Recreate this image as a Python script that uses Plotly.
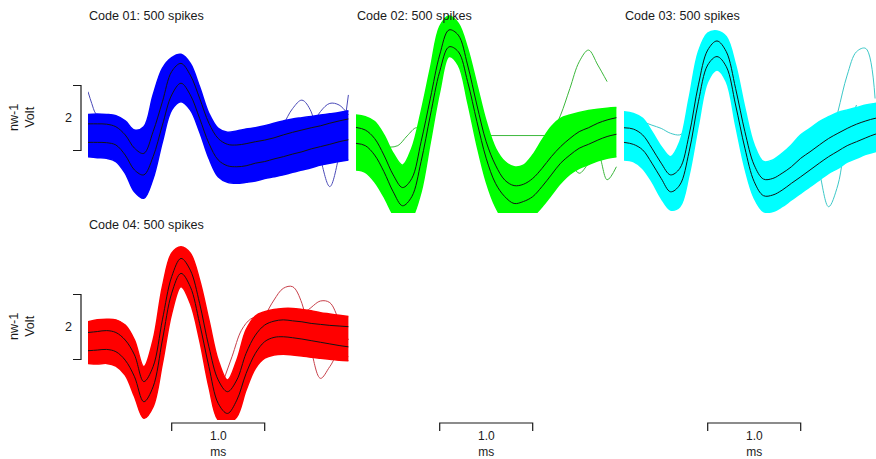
import plotly.graph_objects as go

# ---------------- data (time in ms, amplitude in scale units where bar = 2) -------------
T_MS = [0.0, 0.1, 0.2, 0.3, 0.4, 0.5, 0.6, 0.7, 0.8, 0.9, 1.0, 1.1, 1.2, 1.3, 1.4,
        1.5, 1.6, 1.7, 1.8, 1.9, 2.0, 2.1, 2.2, 2.3, 2.4, 2.5, 2.6, 2.7, 2.8]

TITLES = ["Code 01: 500 spikes", "Code 02: 500 spikes",
          "Code 03: 500 spikes", "Code 04: 500 spikes"]
COLORS = ["#0000FF", "#00FF00", "#00FFFF", "#FF0000"]
OUTLIER_COLORS = ["#4a4ab8", "#3cb83c", "#3cc8c8", "#c8404a"]

# Code 01 (blue)
C1_MAX = [0.11, 0.12, 0.11, 0.07, -0.09, -0.37, -0.27, 0.71, 1.53, 1.86, 1.96, 1.68, 0.96, 0.14, -0.32,
          -0.44, -0.40, -0.34, -0.30, -0.24, -0.16, -0.09, -0.03, 0.01, 0.05, 0.09, 0.13, 0.17, 0.22]
C1_SD_HI = [-0.18, -0.18, -0.19, -0.27, -0.52, -0.93, -1.09, -0.42, 0.50, 1.43, 1.68, 1.32, 0.61, -0.16, -0.63,
            -0.81, -0.83, -0.79, -0.73, -0.68, -0.61, -0.52, -0.44, -0.37, -0.30, -0.24, -0.16, -0.09, -0.03]
C1_SD_LO = [-0.75, -0.75, -0.76, -0.83, -1.14, -1.60, -1.75, -1.19, -0.22, 0.71, 1.07, 0.71, -0.01, -0.78, -1.29,
            -1.47, -1.50, -1.47, -1.39, -1.34, -1.26, -1.19, -1.11, -1.04, -0.95, -0.88, -0.81, -0.73, -0.67]
C1_MIN = [-1.19, -1.22, -1.24, -1.34, -1.70, -2.27, -2.47, -1.86, -0.73, 0.25, 0.50, 0.25, -0.42, -1.24, -1.81,
          -1.98, -2.01, -1.98, -1.94, -1.86, -1.81, -1.75, -1.67, -1.60, -1.53, -1.45, -1.39, -1.34, -1.29]

# Code 02 (green)
C2_MAX = [0.09, 0.04, -0.11, -0.52, -1.09, -1.45, -0.93, 0.19, 1.53, 2.81, 3.14, 2.91, 2.14, 1.02, -0.11,
          -0.93, -1.34, -1.50, -1.45, -1.14, -0.68, -0.27, -0.01, 0.09, 0.17, 0.23, 0.27, 0.30, 0.32]
C2_SD_HI = [-0.29, -0.37, -0.63, -1.14, -1.75, -2.14, -1.86, -0.73, 0.61, 1.94, 2.71, 2.55, 1.63, 0.40, -0.73,
            -1.45, -1.91, -2.08, -2.04, -1.86, -1.55, -1.19, -0.88, -0.63, -0.42, -0.30, -0.16, -0.06, 0.01]
C2_SD_LO = [-0.78, -0.85, -1.14, -1.65, -2.27, -2.70, -2.42, -1.34, 0.09, 1.43, 2.19, 2.04, 1.12, -0.11, -1.24,
            -2.01, -2.42, -2.63, -2.57, -2.42, -2.11, -1.75, -1.39, -1.14, -0.93, -0.81, -0.68, -0.57, -0.50]
C2_MIN = [-1.60, -1.67, -1.96, -2.42, -2.98, -3.39, -3.09, -2.27, -0.73, 0.81, 1.89, 1.63, 0.50, -0.83, -1.96,
          -2.73, -3.19, -3.39, -3.29, -3.04, -2.73, -2.37, -2.01, -1.73, -1.55, -1.43, -1.32, -1.24, -1.19]

# Code 03 (cyan)
C3_MAX = [0.19, 0.14, -0.01, -0.42, -0.88, -1.19, -0.73, 0.61, 2.04, 2.61, 2.68, 2.50, 1.63, 0.30, -0.83,
          -1.34, -1.29, -1.09, -0.83, -0.52, -0.32, -0.11, 0.04, 0.17, 0.25, 0.32, 0.40, 0.45, 0.48]
C3_SD_HI = [-0.30, -0.34, -0.52, -0.93, -1.39, -1.75, -1.55, -0.52, 1.02, 2.09, 2.37, 2.04, 0.91, -0.42, -1.45,
            -1.88, -1.86, -1.70, -1.50, -1.24, -1.04, -0.83, -0.63, -0.47, -0.32, -0.19, -0.09, -0.01, 0.03]
C3_SD_LO = [-0.75, -0.81, -0.98, -1.39, -1.86, -2.27, -2.06, -1.04, 0.50, 1.63, 1.89, 1.58, 0.40, -0.93, -1.96,
            -2.39, -2.37, -2.22, -2.01, -1.81, -1.60, -1.39, -1.19, -1.02, -0.85, -0.73, -0.61, -0.50, -0.44]
C3_MIN = [-1.29, -1.34, -1.55, -1.96, -2.47, -2.83, -2.73, -1.75, -0.22, 1.12, 1.48, 1.12, -0.22, -1.55, -2.47,
          -2.88, -2.88, -2.73, -2.52, -2.32, -2.11, -1.91, -1.70, -1.55, -1.36, -1.24, -1.12, -1.04, -0.98]

# Code 04 (red)
C4_MAX = [0.16, 0.22, 0.24, 0.22, 0.06, -0.40, -1.22, -0.40, 1.24, 2.27, 2.47, 2.27, 1.45, 0.22, -1.02,
          -1.63, -1.02, -0.09, 0.34, 0.47, 0.54, 0.57, 0.57, 0.54, 0.50, 0.44, 0.40, 0.36, 0.32]
C4_SD_HI = [-0.17, -0.14, -0.11, -0.17, -0.40, -0.86, -1.68, -1.22, 0.22, 1.55, 2.11, 1.75, 0.73, -0.61, -1.63,
            -1.99, -1.63, -0.81, -0.25, 0.06, 0.18, 0.22, 0.19, 0.16, 0.11, 0.08, 0.05, 0.03, 0.01]
C4_SD_LO = [-0.73, -0.71, -0.69, -0.76, -1.02, -1.53, -2.30, -1.84, -0.40, 1.04, 1.65, 1.24, 0.11, -1.22, -2.35,
            -2.66, -2.25, -1.43, -0.81, -0.45, -0.32, -0.30, -0.33, -0.37, -0.42, -0.47, -0.52, -0.57, -0.61]
C4_MIN = [-1.12, -1.14, -1.12, -1.20, -1.48, -2.14, -2.81, -2.45, -1.12, 0.42, 1.24, 0.73, -0.40, -1.84, -2.86,
          -2.96, -2.76, -1.94, -1.27, -0.96, -0.86, -0.84, -0.86, -0.89, -0.93, -0.96, -0.99, -1.02, -1.04]

# a few individual outlier spikes (time, value)
C1_OUT_T = [2.0, 2.1, 2.2, 2.3, 2.4, 2.5, 2.6, 2.7, 2.8]
C1_OUT_V = [-0.83, -0.22, 0.29, 0.55, 0.19, -1.24, -2.11, -1.14, 0.71]
C1_OUT2_T = [2.4, 2.5, 2.6, 2.7, 2.8]
C1_OUT2_V = [-0.30, 0.20, 0.45, 0.40, 0.10]
C1_OUT3_T = [0.0, 0.04, 0.08, 0.12]
C1_OUT3_V = [0.81, 0.45, 0.15, 0.05]
C2_OUT_T = [1.9, 2.0, 2.1, 2.2, 2.3, 2.4, 2.5, 2.6, 2.7]
C2_OUT_V = [-1.75, -1.14, -0.52, 0.09, 0.91, 1.73, 2.09, 1.63, 1.12]
C2_FLAT_T = [1.35, 2.05]
C2_FLAT_V = [-0.54, -0.54]
C2_OUT2_T = [0.35, 0.45, 0.55, 0.65, 0.72]
C2_OUT2_V = [-0.90, -0.85, -0.55, -0.30, -0.50]
C2_OUT3_T = [2.3, 2.4, 2.5, 2.6, 2.7, 2.8]
C2_OUT3_V = [-1.30, -1.70, -1.40, -1.10, -1.90, -1.50]
C3_OUT_T = [2.2, 2.3, 2.4, 2.5, 2.6, 2.7]
C3_OUT_V = [-0.93, 0.19, 1.32, 2.04, 2.14, 0.60]
C3_OUT2_T = [2.0, 2.1, 2.2, 2.3, 2.4, 2.5]
C3_OUT2_V = [-0.52, -1.65, -2.73, -2.06, -0.42, 0.40]
C3_OUT3_T = [0.2, 0.3, 0.4, 0.5, 0.6, 0.65]
C3_OUT3_V = [-0.11, -0.22, -0.32, -0.47, -0.52, -0.42]
C4_OUT_T = [1.8, 1.9, 2.0, 2.1, 2.2, 2.3, 2.4, 2.5, 2.6, 2.7, 2.8]
C4_OUT_V = [-0.30, 0.32, 0.83, 1.19, 1.24, 0.73, -0.71, -1.58, -1.22, -0.81, -0.91]
C4_OUT2_T = [1.45, 1.55, 1.65, 1.75, 1.85]
C4_OUT2_V = [-1.70, -0.90, -0.10, 0.25, 0.35]
C4_OUT3_T = [2.2, 2.35, 2.5, 2.6, 2.7, 2.8]
C4_OUT3_V = [0.35, 0.50, 0.80, 0.75, 0.20, -0.40]

SCALE_V = [-1, 1]          # vertical scale bar: 2 units
SCALE_T = [0.9, 1.9]       # horizontal scale bar: 1.0 ms
SCALE_V_LABEL = "2"
SCALE_T_LABEL = "1.0"
UNIT_T = "ms"
UNIT_V = "nw-1<br>Volt"

# ---------------- layout geometry ----------------
W, H = 876, 459
PX_PER_MS = 93.0
PX_PER_UNIT = 32.5

panels = [
    dict(data=(C1_MAX, C1_SD_HI, C1_SD_LO, C1_MIN),
         outliers=[(C1_OUT_T, C1_OUT_V), (C1_OUT2_T, C1_OUT2_V), (C1_OUT3_T, C1_OUT3_V)],
         x0=88, x1=350, row=0),
    dict(data=(C2_MAX, C2_SD_HI, C2_SD_LO, C2_MIN),
         outliers=[(C2_OUT_T, C2_OUT_V), (C2_FLAT_T, C2_FLAT_V), (C2_OUT2_T, C2_OUT2_V),
                   (C2_OUT3_T, C2_OUT3_V)], x0=356, x1=618, row=0),
    dict(data=(C3_MAX, C3_SD_HI, C3_SD_LO, C3_MIN),
         outliers=[(C3_OUT_T, C3_OUT_V), (C3_OUT2_T, C3_OUT2_V), (C3_OUT3_T, C3_OUT3_V)],
         x0=624, x1=876, row=0),
    dict(data=(C4_MAX, C4_SD_HI, C4_SD_LO, C4_MIN),
         outliers=[(C4_OUT_T, C4_OUT_V), (C4_OUT2_T, C4_OUT2_V), (C4_OUT3_T, C4_OUT3_V)],
         x0=88, x1=350, row=1),
]
# rows: (plot top px, plot bottom px, zero-level px)
rows = [(15, 213, 118), (222, 420, 327)]

fig = go.Figure()
layout = dict(width=W, height=H, margin=dict(l=0, r=0, t=0, b=0), autosize=False,
              paper_bgcolor="white", plot_bgcolor="white", showlegend=False)
shapes, annotations = [], []
FONT = dict(family="Liberation Sans, Arial, sans-serif", size=12, color="#1a1a1a")

for i, p in enumerate(panels):
    k = i + 1
    xa = "x" if k == 1 else f"x{k}"
    ya = "y" if k == 1 else f"y{k}"
    top, bot, zero = rows[p["row"]]
    layout["xaxis" if k == 1 else f"xaxis{k}"] = dict(
        domain=[p["x0"] / W, p["x1"] / W], range=[0, (p["x1"] - p["x0"]) / PX_PER_MS],
        visible=False, fixedrange=True, anchor=ya)
    layout["yaxis" if k == 1 else f"yaxis{k}"] = dict(
        domain=[1 - bot / H, 1 - top / H],
        range=[(zero - bot) / PX_PER_UNIT, (zero - top) / PX_PER_UNIT],
        visible=False, fixedrange=True, anchor=xa)

    vmax, sdhi, sdlo, vmin = p["data"]
    for ot, ov in p["outliers"]:
        fig.add_trace(go.Scatter(x=ot, y=ov, xaxis=xa, yaxis=ya, mode="lines",
                                 line=dict(color=OUTLIER_COLORS[i], width=1, shape="spline"),
                                 hoverinfo="skip"))
    fig.add_trace(go.Scatter(x=T_MS, y=vmax, xaxis=xa, yaxis=ya, mode="lines",
                             line=dict(color=COLORS[i], width=1.5, shape="spline"),
                             hoverinfo="skip"))
    fig.add_trace(go.Scatter(x=T_MS, y=vmin, xaxis=xa, yaxis=ya, mode="lines",
                             line=dict(color=COLORS[i], width=1.5, shape="spline"),
                             fill="tonexty", fillcolor=COLORS[i], hoverinfo="skip"))
    for s in (sdhi, sdlo):
        fig.add_trace(go.Scatter(x=T_MS, y=s, xaxis=xa, yaxis=ya, mode="lines",
                                 line=dict(color="#141414", width=1, shape="spline"),
                                 hoverinfo="skip"))

    annotations.append(dict(text=TITLES[i], xref="paper", yref="paper",
                            x=(p["x0"] - 1) / W, y=1 - (16 if p["row"] == 0 else 225) / H,
                            xanchor="left", yanchor="middle", showarrow=False,
                            font=dict(FONT, size=12.6)))

# vertical scale bars (left of column 1, each row)
for k, row in ((1, 0), (4, 1)):
    ya = "y" if k == 1 else f"y{k}"
    xl, xr = 73 / W, 81 / W
    shapes.append(dict(type="path", xref="paper", yref=ya,
                       path=f"M{xl},{SCALE_V[1]} L{xr},{SCALE_V[1]} L{xr},{SCALE_V[0]} L{xl},{SCALE_V[0]}",
                       line=dict(color="#1a1a1a", width=1.2)))
    annotations.append(dict(text=SCALE_V_LABEL, xref="paper", yref=ya, x=68 / W,
                            y=(SCALE_V[0] + SCALE_V[1]) / 2, showarrow=False,
                            xanchor="center", yanchor="middle", font=dict(FONT, size=12.6)))
    annotations.append(dict(text=UNIT_V, xref="paper", yref=ya, x=22 / W,
                            y=(SCALE_V[0] + SCALE_V[1]) / 2, showarrow=False, textangle=-90,
                            xanchor="center", yanchor="middle",
                            font=dict(FONT, size=12.6)))

# horizontal time scale bars at bottom of each column
yb, yt = 1 - 431 / H, 1 - 423 / H
for xa in ("x4", "x2", "x3"):
    shapes.append(dict(type="path", xref=xa, yref="paper",
                       path=f"M{SCALE_T[0]},{yb} L{SCALE_T[0]},{yt} L{SCALE_T[1]},{yt} L{SCALE_T[1]},{yb}",
                       line=dict(color="#1a1a1a", width=1.2)))
    xm = (SCALE_T[0] + SCALE_T[1]) / 2
    annotations.append(dict(text=f"{SCALE_T_LABEL}<br>{UNIT_T}", xref=xa, yref="paper",
                            x=xm, y=1 - 444 / H, showarrow=False, xanchor="center",
                            yanchor="middle", borderpad=0, font=dict(FONT, size=12)))

layout["shapes"] = shapes
layout["annotations"] = annotations
fig.update_layout(**layout)
fig.write_html("out.html", config={"displayModeBar": False},
               post_script="document.body.style.margin='0px';document.body.style.overflow='hidden';")
